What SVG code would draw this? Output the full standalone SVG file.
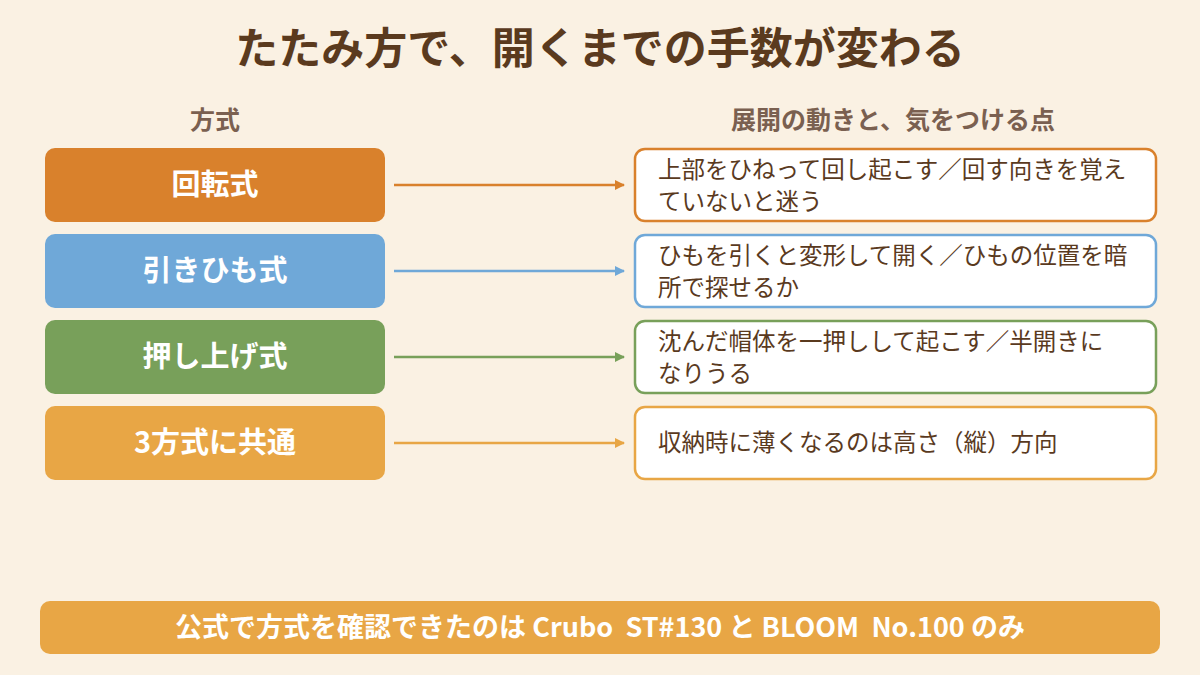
<svg xmlns="http://www.w3.org/2000/svg" width="1200" height="675" viewBox="0 0 1200 675">
<style>
text{font-family:"Noto Sans CJK JP","Noto Sans",sans-serif}
.t{fill:#5a3a1e;font-size:43px;font-weight:bold}
.h{fill:#7a6050;font-size:25px;font-weight:bold}
.l{fill:#fff;font-size:29px;font-weight:bold}
.r{fill:#5a3a1e;font-size:23.5px}
.box{fill:#fff;stroke-width:2.5}
</style>
<defs>
<marker id="a1" markerWidth="10" markerHeight="10" refX="9" refY="5" orient="auto" markerUnits="userSpaceOnUse"><path d="M0,0L10,5L0,10z" fill="#d9812c"/></marker>
<marker id="a2" markerWidth="10" markerHeight="10" refX="9" refY="5" orient="auto" markerUnits="userSpaceOnUse"><path d="M0,0L10,5L0,10z" fill="#6fa8d8"/></marker>
<marker id="a3" markerWidth="10" markerHeight="10" refX="9" refY="5" orient="auto" markerUnits="userSpaceOnUse"><path d="M0,0L10,5L0,10z" fill="#78a05a"/></marker>
<marker id="a4" markerWidth="10" markerHeight="10" refX="9" refY="5" orient="auto" markerUnits="userSpaceOnUse"><path d="M0,0L10,5L0,10z" fill="#e8a645"/></marker>
</defs>
<rect width="1200" height="675" fill="#faf1e3"/>
<text class="t" x="600" y="64" text-anchor="middle">たたみ方で、開くまでの手数が変わる</text>
<text class="h" x="215" y="129" text-anchor="middle">方式</text>
<text class="h" x="893" y="129" text-anchor="middle">展開の動きと、気をつける点</text>
<g id="n1"><rect x="45" y="148" width="340" height="74" rx="10" fill="#d9812c"/><text class="l" x="215" y="195" text-anchor="middle">回転式</text></g>
<g id="n2"><rect x="45" y="234" width="340" height="74" rx="10" fill="#6fa8d8"/><text class="l" x="215" y="281" text-anchor="middle">引きひも式</text></g>
<g id="n3"><rect x="45" y="320" width="340" height="74" rx="10" fill="#78a05a"/><text class="l" x="215" y="367" text-anchor="middle">押し上げ式</text></g>
<g id="n4"><rect x="45" y="406" width="340" height="74" rx="10" fill="#e8a645"/><text class="l" x="215" y="453" text-anchor="middle">3方式に共通</text></g>
<g id="r1"><rect class="box" x="635" y="149" width="521" height="72" rx="10" stroke="#d9812c"/><text class="r" x="658" y="178">上部をひねって回し起こす／回す向きを覚え</text><text class="r" x="658" y="210">ていないと迷う</text></g>
<g id="r2"><rect class="box" x="635" y="235" width="521" height="72" rx="10" stroke="#6fa8d8"/><text class="r" x="658" y="264">ひもを引くと変形して開く／ひもの位置を暗</text><text class="r" x="658" y="296">所で探せるか</text></g>
<g id="r3"><rect class="box" x="635" y="321" width="521" height="72" rx="10" stroke="#78a05a"/><text class="r" x="658" y="350">沈んだ帽体を一押しして起こす／半開きに</text><text class="r" x="658" y="382">なりうる</text></g>
<g id="r4"><rect class="box" x="635" y="407" width="521" height="72" rx="10" stroke="#e8a645"/><text class="r" x="658" y="451">収納時に薄くなるのは高さ（縦）方向</text></g>
<g id="connectors" stroke-width="2.5">
<line x1="394" y1="185" x2="624" y2="185" stroke="#d9812c" marker-end="url(#a1)"/>
<line x1="394" y1="271" x2="624" y2="271" stroke="#6fa8d8" marker-end="url(#a2)"/>
<line x1="394" y1="357" x2="624" y2="357" stroke="#78a05a" marker-end="url(#a3)"/>
<line x1="394" y1="443" x2="624" y2="443" stroke="#e8a645" marker-end="url(#a4)"/>
</g>
<g id="footer"><rect x="40" y="601" width="1120" height="53" rx="10" fill="#e8a645"/><text x="600" y="637" text-anchor="middle" fill="#fff" font-size="27" font-weight="bold" xml:space="preserve">公式で方式を確認できたのは Crubo  ST#130 と BLOOM  No.100 のみ</text></g>
</svg>
